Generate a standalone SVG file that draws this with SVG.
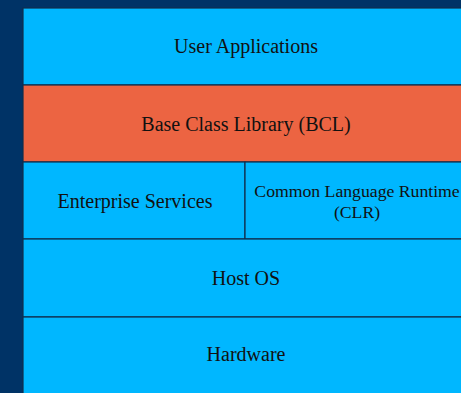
<svg xmlns="http://www.w3.org/2000/svg" width="461" height="393" viewBox="0 0 461 393">
  <style>
    .layer { fill: #00B7FF; stroke: #0F2E4C; stroke-width: 1.2; }
    .bcl { fill: #EC6442; }
    .label { font-family: "Liberation Serif", "Times New Roman", serif; font-size: 20px; fill: #111; text-anchor: middle; }
    .small { font-size: 17.7px; }
  </style>
  <rect x="0" y="0" width="461" height="393" fill="#003366"/>
  <g id="user-applications">
    <rect class="layer" x="23" y="8" width="446" height="77"/>
    <text class="label" x="246" y="53">User Applications</text>
  </g>
  <g id="base-class-library">
    <rect class="layer bcl" x="23" y="85" width="446" height="77"/>
    <text class="label" x="246" y="131">Base Class Library (BCL)</text>
  </g>
  <g id="enterprise-services">
    <rect class="layer" x="23" y="162" width="222" height="77"/>
    <text class="label" x="135" y="208">Enterprise Services</text>
  </g>
  <g id="clr">
    <rect class="layer" x="245" y="162" width="224" height="77"/>
    <text class="label small" x="357" y="197">Common Language Runtime</text>
    <text class="label small" x="357" y="218">(CLR)</text>
  </g>
  <g id="host-os">
    <rect class="layer" x="23" y="239" width="446" height="78"/>
    <text class="label" x="246" y="285">Host OS</text>
  </g>
  <g id="hardware">
    <rect class="layer" x="23" y="317" width="446" height="80"/>
    <text class="label" x="246" y="361">Hardware</text>
  </g>
  <g id="connectors"/>
</svg>
